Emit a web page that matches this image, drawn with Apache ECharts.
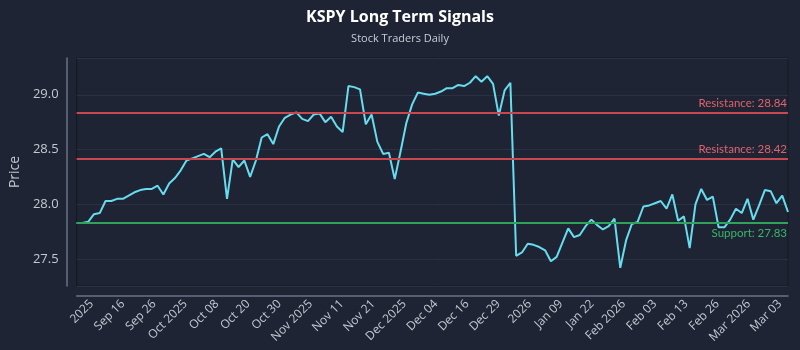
<!DOCTYPE html>
<html><head><meta charset="utf-8">
<script src="https://cdn.jsdelivr.net/npm/echarts@6/dist/echarts.min.js"></script>
<style>html,body{margin:0;padding:0;background:#1e2433;}#c{width:800px;height:350px;}</style>
</head><body><div id="c"></div>
<script>
const prices = [27.83,27.83,27.84,27.91,27.92,28.03,28.03,28.05,28.05,28.08,
28.11,28.13,28.14,28.14,28.17,28.09,28.19,28.24,28.31,28.40,
28.42,28.44,28.46,28.43,28.48,28.51,28.05,28.41,28.34,28.40,
28.25,28.40,28.61,28.64,28.55,28.71,28.79,28.82,28.84,28.78,
28.76,28.82,28.83,28.75,28.80,28.71,28.66,29.08,29.07,29.05,
28.73,28.82,28.57,28.46,28.47,28.23,28.48,28.74,28.91,29.02,
29.01,29.00,29.01,29.03,29.06,29.06,29.09,29.08,29.11,29.17,
29.12,29.17,29.10,28.81,29.04,29.11,27.53,27.56,27.64,27.63,
27.61,27.58,27.48,27.52,27.65,27.78,27.70,27.72,27.80,27.86,
27.81,27.77,27.80,27.87,27.42,27.67,27.82,27.84,27.98,27.99,
28.01,28.03,27.96,28.09,27.85,27.89,27.60,28.00,28.14,28.04,
28.07,27.79,27.79,27.86,27.96,27.92,28.05,27.86,27.99,28.13,
28.12,28.01,28.08,27.93];
const tickLabels = ["2025","Sep 16","Sep 26","Oct 2025","Oct 08","Oct 20","Oct 30","Nov 2025","Nov 11","Nov 21","Dec 2025","Dec 04","Dec 16","Dec 29","2026","Jan 09","Jan 22","Feb 2026","Feb 03","Feb 13","Feb 26","Mar 2026","Mar 03"];
const resistanceLevels = [28.84, 28.42];
const supportLevels = [27.83];
const titleText = "KSPY Long Term Signals";
const subtitleText = "Stock Traders Daily";

const firstTick = 2.6, tickStep = 5.41;
const tickPos = tickLabels.map((_, i) => firstTick + i * tickStep);
const seriesData = prices.map((v, i) => [i, v]);
const markData = [];
resistanceLevels.forEach(v => markData.push({
  yAxis: v, lineStyle: {color: '#c9474f', width: 2, type: 'solid'},
  label: {show: true, position: 'insideEndTop', distance: [1, 3], formatter: 'Resistance: ' + v.toFixed(2), color: '#e0626b', fontSize: 11.5, fontFamily: 'Lato'}
}));
supportLevels.forEach(v => markData.push({
  yAxis: v, lineStyle: {color: '#2fa35c', width: 2, type: 'solid'},
  label: {show: true, position: 'insideEndBottom', distance: [1, 4], formatter: 'Support: ' + v.toFixed(2), color: '#39b768', fontSize: 11.5, fontFamily: 'Lato'}
}));

const chart = echarts.init(document.getElementById('c'));
chart.setOption({
  backgroundColor: '#1e2433',
  animation: false,
  textStyle: {fontFamily: 'Open Sans'},
  title: {
    text: titleText, subtext: subtitleText, left: 'center', top: 4, itemGap: 8,
    textStyle: {color: '#ffffff', fontSize: 16, fontWeight: 'bold', fontFamily: 'Open Sans'},
    subtextStyle: {color: '#c8ccd6', fontSize: 11, fontFamily: 'Open Sans'}
  },
  grid: {left: 71, right: 12, top: 58, bottom: 64, show: true, borderColor: '#131822', borderWidth: 1, backgroundColor: 'transparent'},
  xAxis: {
    type: 'value', min: 0, max: prices.length - 1, offset: 10,
    axisLine: {show: true, onZero: false, lineStyle: {color: '#6b7285', width: 1.5}},
    axisTick: {show: false},
    splitLine: {show: false},
    axisLabel: {
      customValues: tickPos, rotate: 45, color: '#c3c8d2', fontSize: 12, margin: 6,
      formatter: v => tickLabels[Math.round((v - firstTick) / tickStep)] || ''
    }
  },
  yAxis: {
    type: 'value', min: 27.254, max: 29.336, offset: 10,
    name: 'Price', nameLocation: 'middle', nameGap: 38,
    nameTextStyle: {color: '#c3c8d2', fontSize: 14},
    axisLine: {show: true, onZero: false, lineStyle: {color: '#6b7285', width: 1.5}},
    axisTick: {show: false},
    axisLabel: {color: '#c3c8d2', fontSize: 13, margin: 8, showMinLabel: false, showMaxLabel: false, formatter: v => v.toFixed(1)},
    splitLine: {show: true, lineStyle: {color: '#2a3143', width: 1}}
  },
  series: [{
    type: 'line', data: seriesData, showSymbol: false,
    lineStyle: {color: '#67dcef', width: 2}, itemStyle: {color: '#67dcef'},
    markLine: {symbol: 'none', silent: true, data: markData}
  }]
});
</script></body></html>
